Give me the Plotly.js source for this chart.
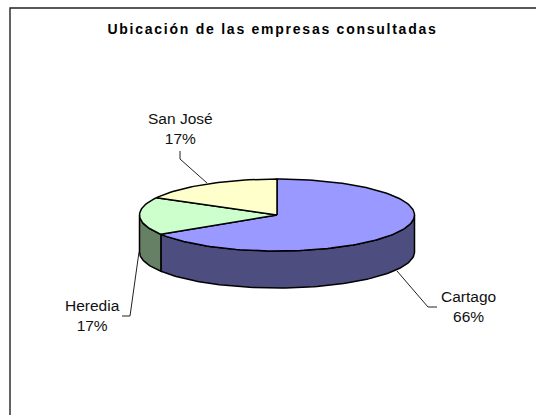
<!DOCTYPE html>
<html><head><meta charset="utf-8">
<script src="https://cdn.plot.ly/plotly-3.0.1.min.js"></script>
<style>
html,body{margin:0;padding:0;background:#fff}
#c{width:536px;height:415px}
.gtitle{letter-spacing:1.75px}
</style></head><body><div id="c"></div>
<script>
const categories = ["Cartago", "Heredia", "San José"];
const percents = [66, 17, 17];
const topColors = ["#9999FF", "#CCFFCC", "#FFFFCC"];
const sideColors = ["#4D4D80", "#668066", "#808066"];

const CX = 277, CY = 215, RX = 137.5, RY = 36, DEPTH = 37;
const total = percents.reduce((a, b) => a + b, 0);
const pt = (deg, dy) => {
  const r = deg * Math.PI / 180;
  return [CX + RX * Math.sin(r), CY - RY * Math.cos(r) + dy];
};
function arc(a0, a1, dy) {
  const out = [], n = Math.max(2, Math.ceil(Math.abs(a1 - a0) / 1.5));
  for (let i = 0; i <= n; i++) out.push(pt(a0 + (a1 - a0) * i / n, dy));
  return out;
}
function poly(points, fill) {
  return {
    type: "scatter", mode: "lines", x: points.map(p => p[0]), y: points.map(p => p[1]),
    fill: "toself", fillcolor: fill, line: {color: "#000", width: 1.5},
    hoverinfo: "skip", showlegend: false
  };
}
const sides = [], tops = [];
let acc = 0;
percents.forEach((v, i) => {
  const a0 = acc / total * 360, a1 = (acc + v) / total * 360;
  acc += v;
  const s0 = Math.max(a0, 90), s1 = Math.min(a1, 270);
  if (s1 > s0) {
    sides.push(poly(arc(s0, s1, 0).concat(arc(s1, s0, DEPTH), [pt(s0, 0)]), sideColors[i]));
  }
  tops.push(poly([[CX, CY]].concat(arc(a0, a1, 0), [[CX, CY]]), topColors[i]));
});

const labelText = i => categories[i] + "<br>" + percents[i] + "%";
const label = (i, x, y) => ({
  text: labelText(i), x, y, xref: "x", yref: "y", showarrow: false,
  xanchor: "center", yanchor: "middle", align: "center",
  font: {family: "Liberation Sans", size: 15.5, color: "#111"}
});
const path = d => ({type: "path", path: d, xref: "x", yref: "y",
  line: {color: "#222", width: 1}});

Plotly.newPlot("c", sides.concat(tops), {
  width: 536, height: 415,
  margin: {l: 0, r: 0, t: 0, b: 0},
  paper_bgcolor: "#fff", plot_bgcolor: "#fff",
  title: {
    text: "<b>Ubicación de las empresas consultadas</b>",
    x: 272.5 / 536, xanchor: "center", xref: "paper",
    y: 1 - 29 / 415, yanchor: "middle", yref: "container",
    font: {family: "Liberation Sans", size: 14, color: "#000"}
  },
  xaxis: {range: [0, 536], visible: false, fixedrange: true},
  yaxis: {range: [415, 0], visible: false, fixedrange: true},
  annotations: [label(0, 468, 306), label(1, 92, 315), label(2, 180, 128)],
  shapes: [
    {type: "path", path: "M 10 415 L 10 8 L 536 8", xref: "x", yref: "y",
     line: {color: "#222", width: 1.4}},
    path("M 180 151 L 180 159 L 207 183"),
    path("M 139 252 L 130 316 L 122 316"),
    path("M 397 271 L 428 307 L 437 307")
  ]
}, {displayModeBar: false, staticPlot: true});
</script></body></html>
